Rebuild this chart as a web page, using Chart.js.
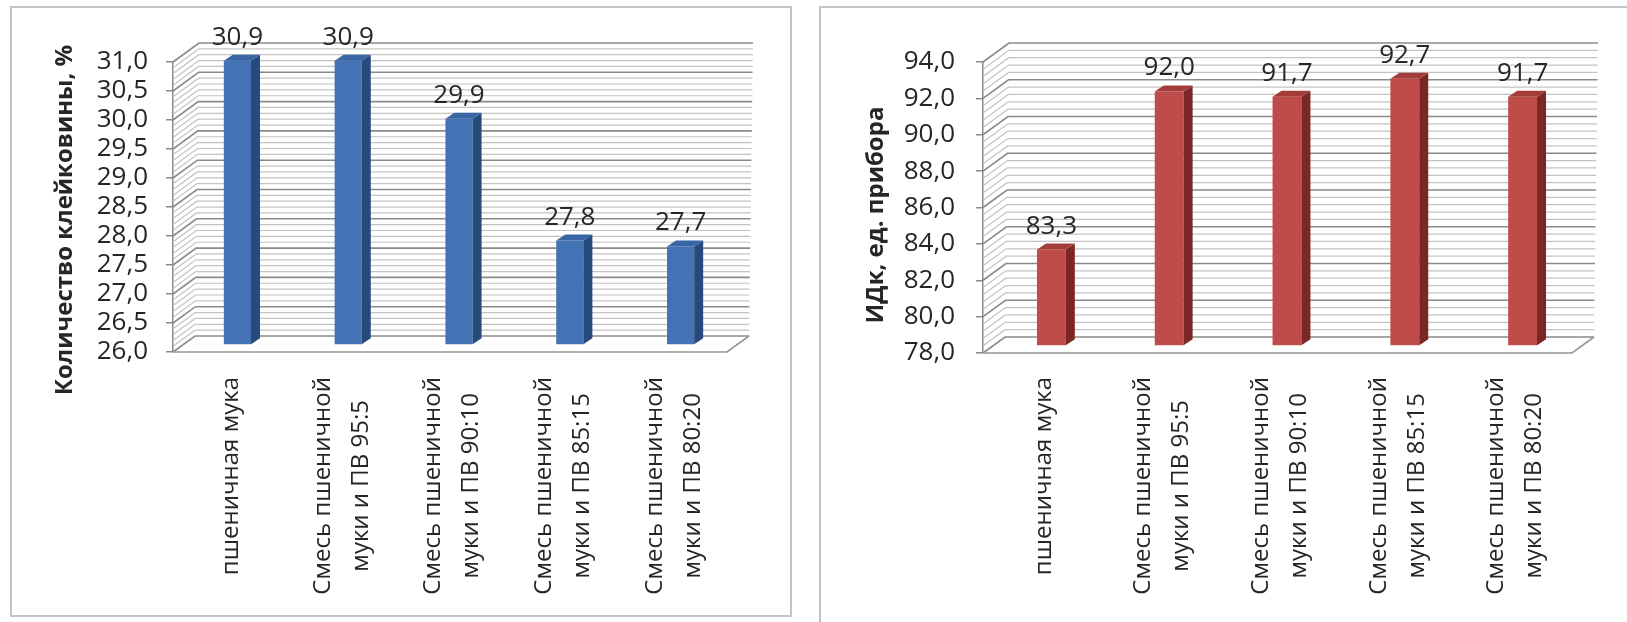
<!DOCTYPE html>
<html>
<head>
<meta charset="utf-8">
<script src="https://cdn.jsdelivr.net/npm/chart.js@4.4.0/dist/chart.umd.min.js"></script>
<style>
  html, body { margin: 0; padding: 0; background: #fff; }
  body { width: 1627px; height: 622px; position: relative; overflow: hidden; }
  .panel { position: absolute; border: 2px solid #c4c4c4; box-sizing: border-box; }
  #p1 { left: 10px; top: 6px; width: 782px; height: 611px; }
  #p2 { left: 819px; top: 6px; width: 830px; height: 640px; }
  .holder { position: absolute; top: 0; height: 622px; }
  canvas { display: block; }
</style>
</head>
<body>
<div class="panel" id="p1"></div>
<div class="panel" id="p2"></div>
<div class="holder" style="left:0;width:800px"><canvas id="glutenChart" width="800" height="622"></canvas></div>
<div class="holder" style="left:800px;width:827px"><canvas id="idkChart" width="827" height="622"></canvas></div>

<script>
// Samples: wheat flour and wheat flour blended with ПВ at increasing shares
const categoryLabels = [
  ['пшеничная мука'],
  ['Смесь пшеничной', 'муки и ПВ 95:5'],
  ['Смесь пшеничной', 'муки и ПВ 90:10'],
  ['Смесь пшеничной', 'муки и ПВ 85:15'],
  ['Смесь пшеничной', 'муки и ПВ 80:20']
];

// Gluten content, %
const glutenValues = [30.9, 30.9, 29.9, 27.8, 27.7];
const glutenRange = [26, 31];
const glutenStep = 0.5;

// Gluten deformation index (ИДК), device units
const idkValues = [83.3, 92.0, 91.7, 92.7, 91.7];
const idkRange = [78, 94];
const idkStep = 2;

const FONT = "'Open Sans', 'DejaVu Sans', sans-serif";
const TEXT = '#262626';
const fmt = v => v.toFixed(1).replace('.', ',');

// Pseudo-3D column look: back wall with hatched side wall, floor,
// bar side/top faces, value labels, rotated category labels and axis title.
const depth3d = {
  id: 'depth3d',
  beforeDatasetsDraw(chart, args, o) {
    const { ctx, chartArea: a, scales: { y } } = chart;
    const wallOff = py => {
      const t = (py - a.top) / (a.bottom - a.top);
      return [o.wallTop[0] + (o.wallBottom[0] - o.wallTop[0]) * t,
              o.wallTop[1] + (o.wallBottom[1] - o.wallTop[1]) * t];
    };
    ctx.save();
    const minor = o.step / o.minorPerMajor;
    const n = Math.round((y.max - y.min) / minor);
    for (let k = 0; k <= n; k++) {
      const v = y.min + k * minor;
      const major = k % o.minorPerMajor === 0;
      const py = y.getPixelForValue(v);
      const [dx, dy] = wallOff(py);
      ctx.beginPath();
      ctx.moveTo(a.left, py);
      ctx.lineTo(a.left + dx, py + dy);
      ctx.lineTo(a.right + dx, py + dy);
      ctx.strokeStyle = major ? '#8a8a8a' : '#c3c3c3';
      ctx.lineWidth = major ? 1.6 : 1.2;
      ctx.stroke();
    }
    const [fdx, fdy] = wallOff(a.bottom);
    ctx.beginPath();
    ctx.moveTo(a.left, a.bottom);
    ctx.lineTo(a.right, a.bottom);
    ctx.lineTo(a.right + fdx, a.bottom + fdy);
    ctx.strokeStyle = '#969696';
    ctx.lineWidth = 1.6;
    ctx.stroke();
    ctx.restore();

    ctx.save();
    ctx.translate(o.barShift[0], o.barShift[1]);
  },
  afterDatasetsDraw(chart, args, o) {
    const { ctx } = chart;
    const meta = chart.getDatasetMeta(0);
    const values = chart.data.datasets[0].data;
    const [sx, sy] = o.barDepth;
    meta.data.forEach((bar, i) => {
      const { x, y, base, width } = bar.getProps(['x', 'y', 'base', 'width'], true);
      const l = x - width / 2, r = x + width / 2;
      ctx.fillStyle = o.sideColor;
      ctx.beginPath();
      ctx.moveTo(r, y); ctx.lineTo(r + sx, y + sy);
      ctx.lineTo(r + sx, base + sy); ctx.lineTo(r, base);
      ctx.closePath(); ctx.fill();
      ctx.fillStyle = o.topColor;
      ctx.beginPath();
      ctx.moveTo(l, y); ctx.lineTo(l + sx, y + sy);
      ctx.lineTo(r + sx, y + sy); ctx.lineTo(r, y);
      ctx.closePath(); ctx.fill();

      ctx.fillStyle = TEXT;
      ctx.font = `26px ${FONT}`;
      ctx.textAlign = 'center';
      ctx.textBaseline = 'alphabetic';
      ctx.fillText(fmt(values[i]), x, y - o.labelGap);
    });
    ctx.restore();
  },
  afterDraw(chart, args, o) {
    const { ctx, scales: { x } } = chart;
    ctx.save();
    ctx.fillStyle = TEXT;
    ctx.font = `24px ${FONT}`;
    chart.data.labels.forEach((lines, i) => {
      const cx = x.getPixelForValue(i) + o.labelShift;
      const maxW = Math.max(...lines.map(t => ctx.measureText(t).width));
      ctx.save();
      ctx.translate(cx, o.labelTop + maxW / 2);
      ctx.rotate(-Math.PI / 2);
      ctx.textAlign = 'center';
      ctx.textBaseline = 'middle';
      lines.forEach((t, j) => ctx.fillText(t, 0, (j - (lines.length - 1) / 2) * o.lineHeight));
      ctx.restore();
    });
    ctx.font = `bold 24px ${FONT}`;
    ctx.translate(o.titlePos[0], o.titlePos[1]);
    ctx.rotate(-Math.PI / 2);
    ctx.textAlign = 'center';
    ctx.textBaseline = 'middle';
    ctx.fillText(o.title, 0, 0);
    ctx.restore();
  }
};

function makeChart(id, values, range, step, cfg) {
  return new Chart(document.getElementById(id), {
    type: 'bar',
    data: {
      labels: categoryLabels,
      datasets: [{
        data: values,
        base: range[0],
        backgroundColor: cfg.frontColor,
        borderWidth: 0,
        categoryPercentage: 1,
        barPercentage: cfg.barPercentage,
        clip: false
      }]
    },
    options: {
      responsive: false,
      animation: false,
      events: [],
      layout: { padding: cfg.padding },
      plugins: {
        legend: { display: false },
        tooltip: { enabled: false },
        depth3d: {
          step: step,
          minorPerMajor: 5,
          wallTop: [26, -19],
          wallBottom: [22, -16],
          barShift: cfg.barShift,
          barDepth: [9, -6],
          sideColor: cfg.sideColor,
          topColor: cfg.topColor,
          labelGap: 16,
          labelShift: 2.5,
          labelTop: 377,
          lineHeight: 38,
          title: cfg.title,
          titlePos: cfg.titlePos
        }
      },
      scales: {
        x: { display: false },
        y: {
          min: range[0],
          max: range[1],
          afterFit: s => { s.width = cfg.axisX; },
          ticks: {
            stepSize: step,
            autoSkip: false,
            maxTicksLimit: 30,
            padding: cfg.tickPadding,
            color: TEXT,
            font: { family: FONT, size: 26, lineHeight: 1 },
            callback: v => fmt(v)
          },
          grid: { drawOnChartArea: false, drawTicks: true, tickLength: 7, color: '#8a8a8a', lineWidth: 1.5 },
          border: { display: true, color: '#8a8a8a', width: 1.5 }
        }
      }
    },
    plugins: [depth3d]
  });
}

makeChart('glutenChart', glutenValues, glutenRange, glutenStep, {
  frontColor: '#4373b4',
  sideColor: '#274a7c',
  topColor: '#3865a3',
  barPercentage: 0.245,
  padding: { left: 0, right: 73, top: 62, bottom: 270 },
  axisX: 173,
  tickPadding: 18,
  barShift: [9, -7],
  title: 'Количество клейковины, %',
  titlePos: [65, 220]
});

makeChart('idkChart', idkValues, idkRange, idkStep, {
  frontColor: '#c04c49',
  sideColor: '#7a2725',
  topColor: '#a43d3a',
  barPercentage: 0.245,
  padding: { left: 0, right: 55, top: 62, bottom: 269 },
  axisX: 183,
  tickPadding: 21,
  barShift: [9.5, -7],
  title: 'ИДк, ед. прибора',
  titlePos: [76, 215]
});
</script>
</body>
</html>
